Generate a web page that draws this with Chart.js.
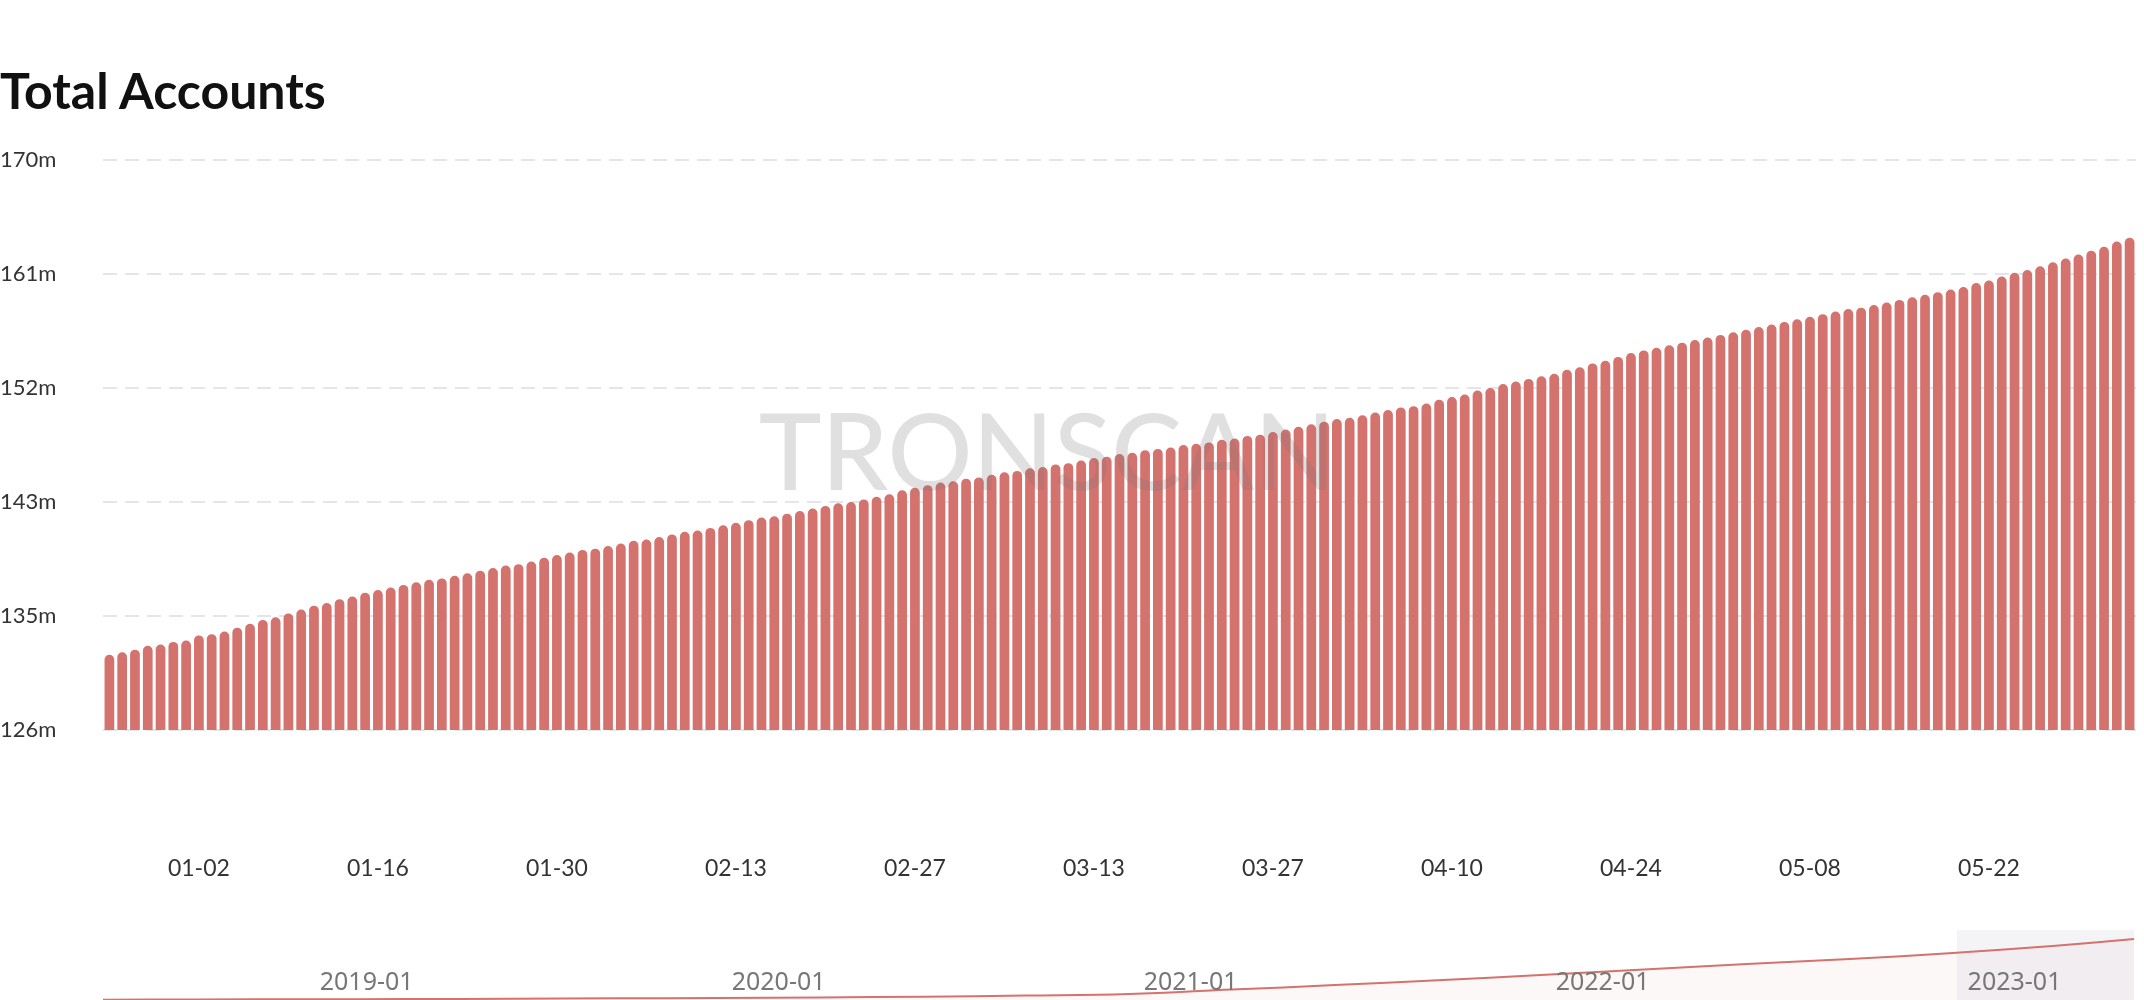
<!DOCTYPE html>
<html>
<head>
<meta charset="utf-8">
<script src="https://cdn.jsdelivr.net/npm/chart.js@4/dist/chart.umd.min.js"></script>
<style>
   html, body { margin: 0; padding: 0; background: #fff; }
   body { width: 2144px; height: 1000px; position: relative; overflow: hidden; font-family: Lato, sans-serif; }
   #title { position: absolute; left: 0; top: 60px; font: bold 50px Lato, sans-serif; color: #111; }
   #main_box { position: absolute; left: 0; top: 140px; width: 2144px; height: 790px; }
   #nav_box { position: absolute; left: 0; top: 930px; width: 2144px; height: 70px; }
</style>
</head>
<body>
<div id="title">Total Accounts</div>
<div id="main_box"><canvas id="chart1"></canvas></div>
<div id="nav_box"><canvas id="chart2"></canvas></div>
<script>
const barColor = `rgb(212, 114, 110)`;

// daily total accounts (millions), 2022-12-26 .. 2023-06-02
const accounts = [
   131.8, 132.0, 132.2, 132.5, 132.6, 132.8, 132.9, 133.3, 133.4, 133.6, 133.9, 134.2, 134.5, 134.7, 135.0, 135.3, 135.6, 135.8, 136.1,
   136.3, 136.6, 136.8,
   137.0, 137.2, 137.4, 137.6, 137.7, 137.9, 138.1, 138.3, 138.5, 138.7, 138.8, 139.0, 139.3, 139.5,
   139.7, 139.9, 140.0, 140.2, 140.4, 140.6, 140.7, 140.9, 141.1, 141.3, 141.4, 141.6, 141.8, 142.0,
   142.2, 142.4, 142.5, 142.7, 142.9, 143.1, 143.3, 143.5, 143.6, 143.8, 144.0, 144.2, 144.5, 144.7,
   144.9, 145.1, 145.2, 145.4, 145.5, 145.7, 145.9, 146.0, 146.2, 146.3, 146.5, 146.6, 146.8, 147.0,
   147.1, 147.3, 147.4, 147.6, 147.7, 147.8, 148.0, 148.1, 148.2, 148.4, 148.5, 148.7, 148.8, 149.0,
   149.2, 149.4, 149.6, 149.8, 150.0, 150.1, 150.3, 150.5, 150.7, 150.9, 151.0, 151.2, 151.5, 151.7,
   151.9, 152.2, 152.4, 152.7, 152.9, 153.1, 153.3, 153.5, 153.8, 154.0, 154.3, 154.5, 154.8, 155.1,
   155.3, 155.5, 155.7, 155.9, 156.1, 156.3, 156.5, 156.7, 156.9, 157.1, 157.3, 157.5, 157.7, 157.9,
   158.1, 158.3, 158.5, 158.6, 158.8, 159.0, 159.2, 159.4, 159.6, 159.8, 160.0, 160.2, 160.5, 160.7,
   161.0, 161.3, 161.5, 161.8, 162.1, 162.4, 162.7, 163.0, 163.3, 163.7, 164.0
];
const yTickLabels = ["126m", "135m", "143m", "152m", "161m", "170m"];

// overview strip (decimal year, millions)
const navYears = [2018.36, 2018.6, 2018.85, 2019.1, 2019.35, 2019.6, 2019.85, 2020.1, 2020.35, 2020.6, 2020.85,
   2021.1, 2021.35, 2021.6, 2021.85, 2022.1, 2022.35, 2022.6, 2022.85, 2023.1, 2023.29];
const navValues = [1, 1.5, 2, 2.5, 3.5, 4.5, 5.5, 7, 9, 12, 16, 28, 40, 53, 67, 82, 97, 110, 126, 146, 164];
const navLabels = ["2019-01", "2020-01", "2021-01", "2022-01", "2023-01"];
const navLabelYears = [2019, 2020, 2021, 2022, 2023];

const dates = [];
let d = new Date(Date.UTC(2022, 11, 26));
for (let i = 0; i < accounts.length; i++) {
   dates.push(String(d.getUTCMonth() + 1).padStart(2, "0") + "-" + String(d.getUTCDate()).padStart(2, "0"));
   d.setUTCDate(d.getUTCDate() + 1);
}

const decor = {
   id: "decor",
   afterDatasetsDraw(chart) {
      const ctx = chart.ctx;
      const x = chart.scales.x;
      ctx.save();
      ctx.font = "500 106px Lato, sans-serif";
      ctx.fillStyle = "rgba(120, 120, 120, 0.23)";
      ctx.textAlign = "center";
      ctx.textBaseline = "middle";
      ctx.fillText("TRONSCAN", 1047, 316);
      // date labels every 14 days
      ctx.font = "23px Lato, sans-serif";
      ctx.fillStyle = "#333";
      for (let i = 7; i < dates.length; i += 14) {
         ctx.fillText(dates[i], x.getPixelForValue(i), chart.chartArea.bottom + 139);
      }
      ctx.restore();
   }
};

new Chart(document.querySelector("#chart1"), {
   type: "bar",
   data: {
      labels: dates,
      datasets: [{
         data: accounts,
         backgroundColor: barColor,
         borderRadius: { topLeft: 6, topRight: 6 },
         borderSkipped: "bottom",
         barPercentage: 0.76,
         categoryPercentage: 1
      }]
   },
   options: {
      responsive: true,
      maintainAspectRatio: false,
      animation: false,
      layout: { padding: { top: 20, right: 8, left: 0, bottom: 0 } },
      plugins: { legend: { display: false }, tooltip: { enabled: false } },
      scales: {
         x: {
            grid: { display: false },
            border: { display: false },
            ticks: { display: false },
            afterFit: (s) => { s.height = 200; }
         },
         y: {
            min: 126,
            max: 170,
            afterBuildTicks: (s) => { s.ticks = [126, 134.8, 143.6, 152.4, 161.2, 170].map(v => ({ value: v })); },
            grid: { color: "#e2e5ea", lineWidth: 2, drawTicks: false },
            border: { display: false, dash: [14, 8] },
            ticks: {
               crossAlign: "far",
               padding: 6,
               color: "#333",
               font: { family: "Lato", size: 22 },
               callback: (v, i) => yTickLabels[i]
            },
            afterFit: (s) => { s.width = 103; }
         }
      }
   },
   plugins: [decor]
});

const navDecor = {
   id: "navDecor",
   beforeDatasetsDraw(chart) {
      const ctx = chart.ctx;
      const x = chart.scales.x;
      const area = chart.chartArea;
      ctx.save();
      ctx.fillStyle = "rgba(236, 236, 242, 0.6)";
      const x0 = x.getPixelForValue(2022.86);
      ctx.fillRect(x0, 0, area.right - x0, chart.height);
      ctx.restore();
   },
   afterDatasetsDraw(chart) {
      const ctx = chart.ctx;
      const x = chart.scales.x;
      ctx.save();
      ctx.font = "25px 'Noto Sans', sans-serif";
      ctx.fillStyle = "#777";
      ctx.textAlign = "center";
      ctx.textBaseline = "middle";
      for (let i = 0; i < navLabels.length; i++) {
         ctx.fillText(navLabels[i], x.getPixelForValue(navLabelYears[i]), 53);
      }
      ctx.restore();
   }
};

new Chart(document.querySelector("#chart2"), {
   type: "line",
   data: {
      datasets: [{
         data: navYears.map((yr, i) => ({ x: yr, y: navValues[i] })),
         borderColor: barColor,
         borderWidth: 2,
         backgroundColor: "rgba(212, 114, 110, 0.05)",
         fill: "origin",
         pointRadius: 0,
         tension: 0.4
      }]
   },
   options: {
      responsive: true,
      maintainAspectRatio: false,
      animation: false,
      layout: { padding: { left: 103, right: 10, top: 6, bottom: 0 } },
      plugins: { legend: { display: false }, tooltip: { enabled: false } },
      scales: {
         x: { type: "linear", min: 2018.36, max: 2023.29, display: false },
         y: { min: 0, max: 172, display: false }
      }
   },
   plugins: [navDecor]
});
</script>
</body>
</html>
